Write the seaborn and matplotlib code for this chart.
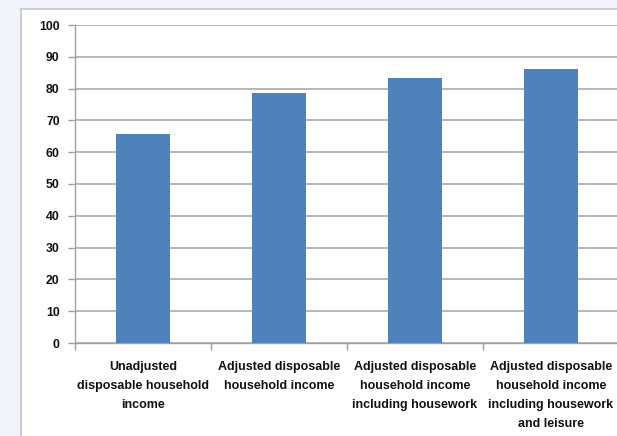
import matplotlib
matplotlib.use("Agg")
import matplotlib.pyplot as plt
import seaborn as sns
import pandas as pd
from matplotlib.patches import Rectangle

categories = [
    "Unadjusted\ndisposable household\nincome",
    "Adjusted disposable\nhousehold income",
    "Adjusted disposable\nhousehold income\nincluding housework",
    "Adjusted disposable\nhousehold income\nincluding housework\nand leisure",
]
values = [65.6, 78.5, 83.3, 86.2]
yticks = [0, 10, 20, 30, 40, 50, 60, 70, 80, 90, 100]

sns.set_style("white")
plt.rcParams["font.family"] = ["Liberation Sans Narrow", "Liberation Sans", "DejaVu Sans"]

fig = plt.figure(figsize=(6.17, 4.36), dpi=100)
fig.patch.set_facecolor("#f1f3fa")
box = Rectangle((21 / 617, -0.01), 1.0, 1 - 9 / 436 + 0.01,
                transform=fig.transFigure, facecolor="white",
                edgecolor="#c6c6c6", linewidth=1.2, zorder=-10)
fig.patches.append(box)

ax = fig.add_axes([75 / 617, 1 - 343 / 436, 544 / 617, 318 / 436])
ax.set_zorder(1)
ax.patch.set_alpha(0)
df = pd.DataFrame({"cat": categories, "val": values})
sns.barplot(data=df, x="cat", y="val", color="#4F81BD", saturation=1,
            width=0.39, ax=ax, zorder=3, linewidth=0)

ax.set_ylim(0, 100)
ax.set_xlim(-0.5, 3.5)
ax.set_yticks(yticks)
ax.set_yticklabels([str(t) for t in yticks], fontsize=8.8, fontweight="bold", color="#111111")
ax.set_xticks(range(len(categories)))
ax.set_xticklabels(categories, fontsize=9, fontweight="bold", linespacing=1.78, color="#111111")
ax.set_xticks([-0.5, 0.5, 1.5, 2.5, 3.5], minor=True)
ax.tick_params(axis="x", which="major", length=0, pad=13)
ax.tick_params(axis="x", which="minor", length=5, width=1, color="#a0a0a0", direction="out", bottom=True)
ax.tick_params(axis="y", length=5, width=1, color="#a0a0a0", direction="out", pad=6, left=True)
ax.set_xlabel("")
ax.set_ylabel("")
ax.yaxis.grid(True, color="#b8b8b8", linewidth=1.4, zorder=0)
ax.set_axisbelow(True)
for s in ["top", "right"]:
    ax.spines[s].set_visible(False)
ax.spines["left"].set_color("#a0a0a0")
ax.spines["bottom"].set_color("#a0a0a0")
ax.spines["left"].set_linewidth(1)
ax.spines["bottom"].set_linewidth(1)

fig.savefig("out.png", dpi=100, facecolor=fig.get_facecolor())
